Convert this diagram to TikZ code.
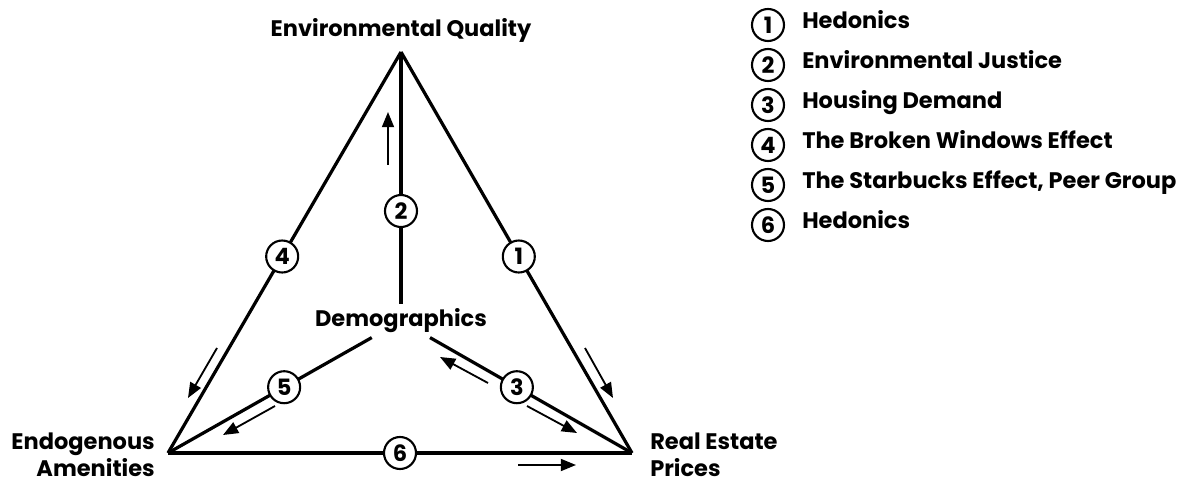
\documentclass[tikz,border=0pt]{standalone}
\usepackage{fontspec}
\setmainfont{Poppins}
\usepackage{tikz}
\usetikzlibrary{arrows.meta,positioning,calc}

\newcommand{\labfont}{\bfseries\fontsize{16}{19}\selectfont}

\begin{document}
\begin{tikzpicture}[
    edge/.style={line width=2.3pt, black},
    numNode/.style={circle, draw=black, line width=1.5pt, fill=white, minimum size=0.8cm, inner sep=0pt, outer sep=0pt, font=\labfont},
    corner/.style={font=\labfont, inner sep=0pt},
    legText/.style={font=\labfont, inner sep=0pt, anchor=west, text height=0.72em, text depth=0.2em},
    flow/.style={-{Triangle[length=0.38cm, width=0.3cm]}, line width=1.3pt, black}
]
\useasboundingbox (0,0) rectangle (29.9,12.175);

% vertices of the triangle
\coordinate (eq) at (10.025,10.875);
\coordinate (ea) at (4.2,0.85);
\coordinate (rp) at (15.8,0.85);
\node[corner, inner sep=3pt] (demo) at (10.025,4.15) {Demographics};

% corner labels
\node[corner, anchor=base] (eqLabel) at (10.025,11.25) {Environmental Quality};
\node[corner, anchor=east, align=right] (eaLabel) at (3.875,0.8) {Endogenous\\Amenities};
\node[corner, anchor=west, align=left] (rpLabel) at (16.25,0.8) {Real Estate\\Prices};

% edges with numbered channels
\draw[edge] (eq) -- node[numNode, pos=0.51] (n1) {1} (rp);
\draw[edge] (eq) -- node[numNode, pos=0.63] (n2) {2} (demo);
\draw[edge] (demo) -- node[numNode, pos=0.43] (n3) {3} (rp);
\draw[edge] (eq) -- node[numNode, pos=0.51] (n4) {4} (ea);
\draw[edge] (demo) -- node[numNode, pos=0.43] (n5) {5} (ea);
\draw[edge] (ea) -- node[numNode, pos=0.5] (n6) {6} (rp);

% direction arrows
\coordinate (a2s) at (9.7,8.05);    \coordinate (a2e) at (9.7,9.375);
\coordinate (a4s) at (5.425,3.475); \coordinate (a4e) at (4.7,2.225);
\coordinate (a1s) at (14.625,3.475);\coordinate (a1e) at (15.325,2.225);
\coordinate (a5s) at (6.875,2.025); \coordinate (a5e) at (5.575,1.3);
\coordinate (a3us) at (12.2,2.6);   \coordinate (a3ue) at (11.0,3.25);
\coordinate (a3ds) at (13.175,2.025);\coordinate (a3de) at (14.425,1.35);
\coordinate (a6s) at (12.95,0.55);  \coordinate (a6e) at (14.4,0.55);

\draw[flow] (a2s) -- (a2e);
\draw[flow] (a4s) -- (a4e);
\draw[flow] (a1s) -- (a1e);
\draw[flow] (a5s) -- (a5e);
\draw[flow] (a3us) -- (a3ue);
\draw[flow] (a3ds) -- (a3de);
\draw[flow] (a6s) -- (a6e);

% legend
\node[numNode] (k1) at (19.2,11.55) {1};
\node[numNode, below=0.2cm of k1] (k2) {2};
\node[numNode, below=0.2cm of k2] (k3) {3};
\node[numNode, below=0.2cm of k3] (k4) {4};
\node[numNode, below=0.2cm of k4] (k5) {5};
\node[numNode, below=0.2cm of k5] (k6) {6};

\node[legText, right=0.45cm of k1] (t1) {Hedonics};
\node[legText, right=0.45cm of k2] (t2) {Environmental Justice};
\node[legText, right=0.45cm of k3] (t3) {Housing Demand};
\node[legText, right=0.45cm of k4] (t4) {The Broken Windows Effect};
\node[legText, right=0.45cm of k5] (t5) {The Starbucks Effect, Peer Group};
\node[legText, right=0.45cm of k6] (t6) {Hedonics};

\end{tikzpicture}
\end{document}
